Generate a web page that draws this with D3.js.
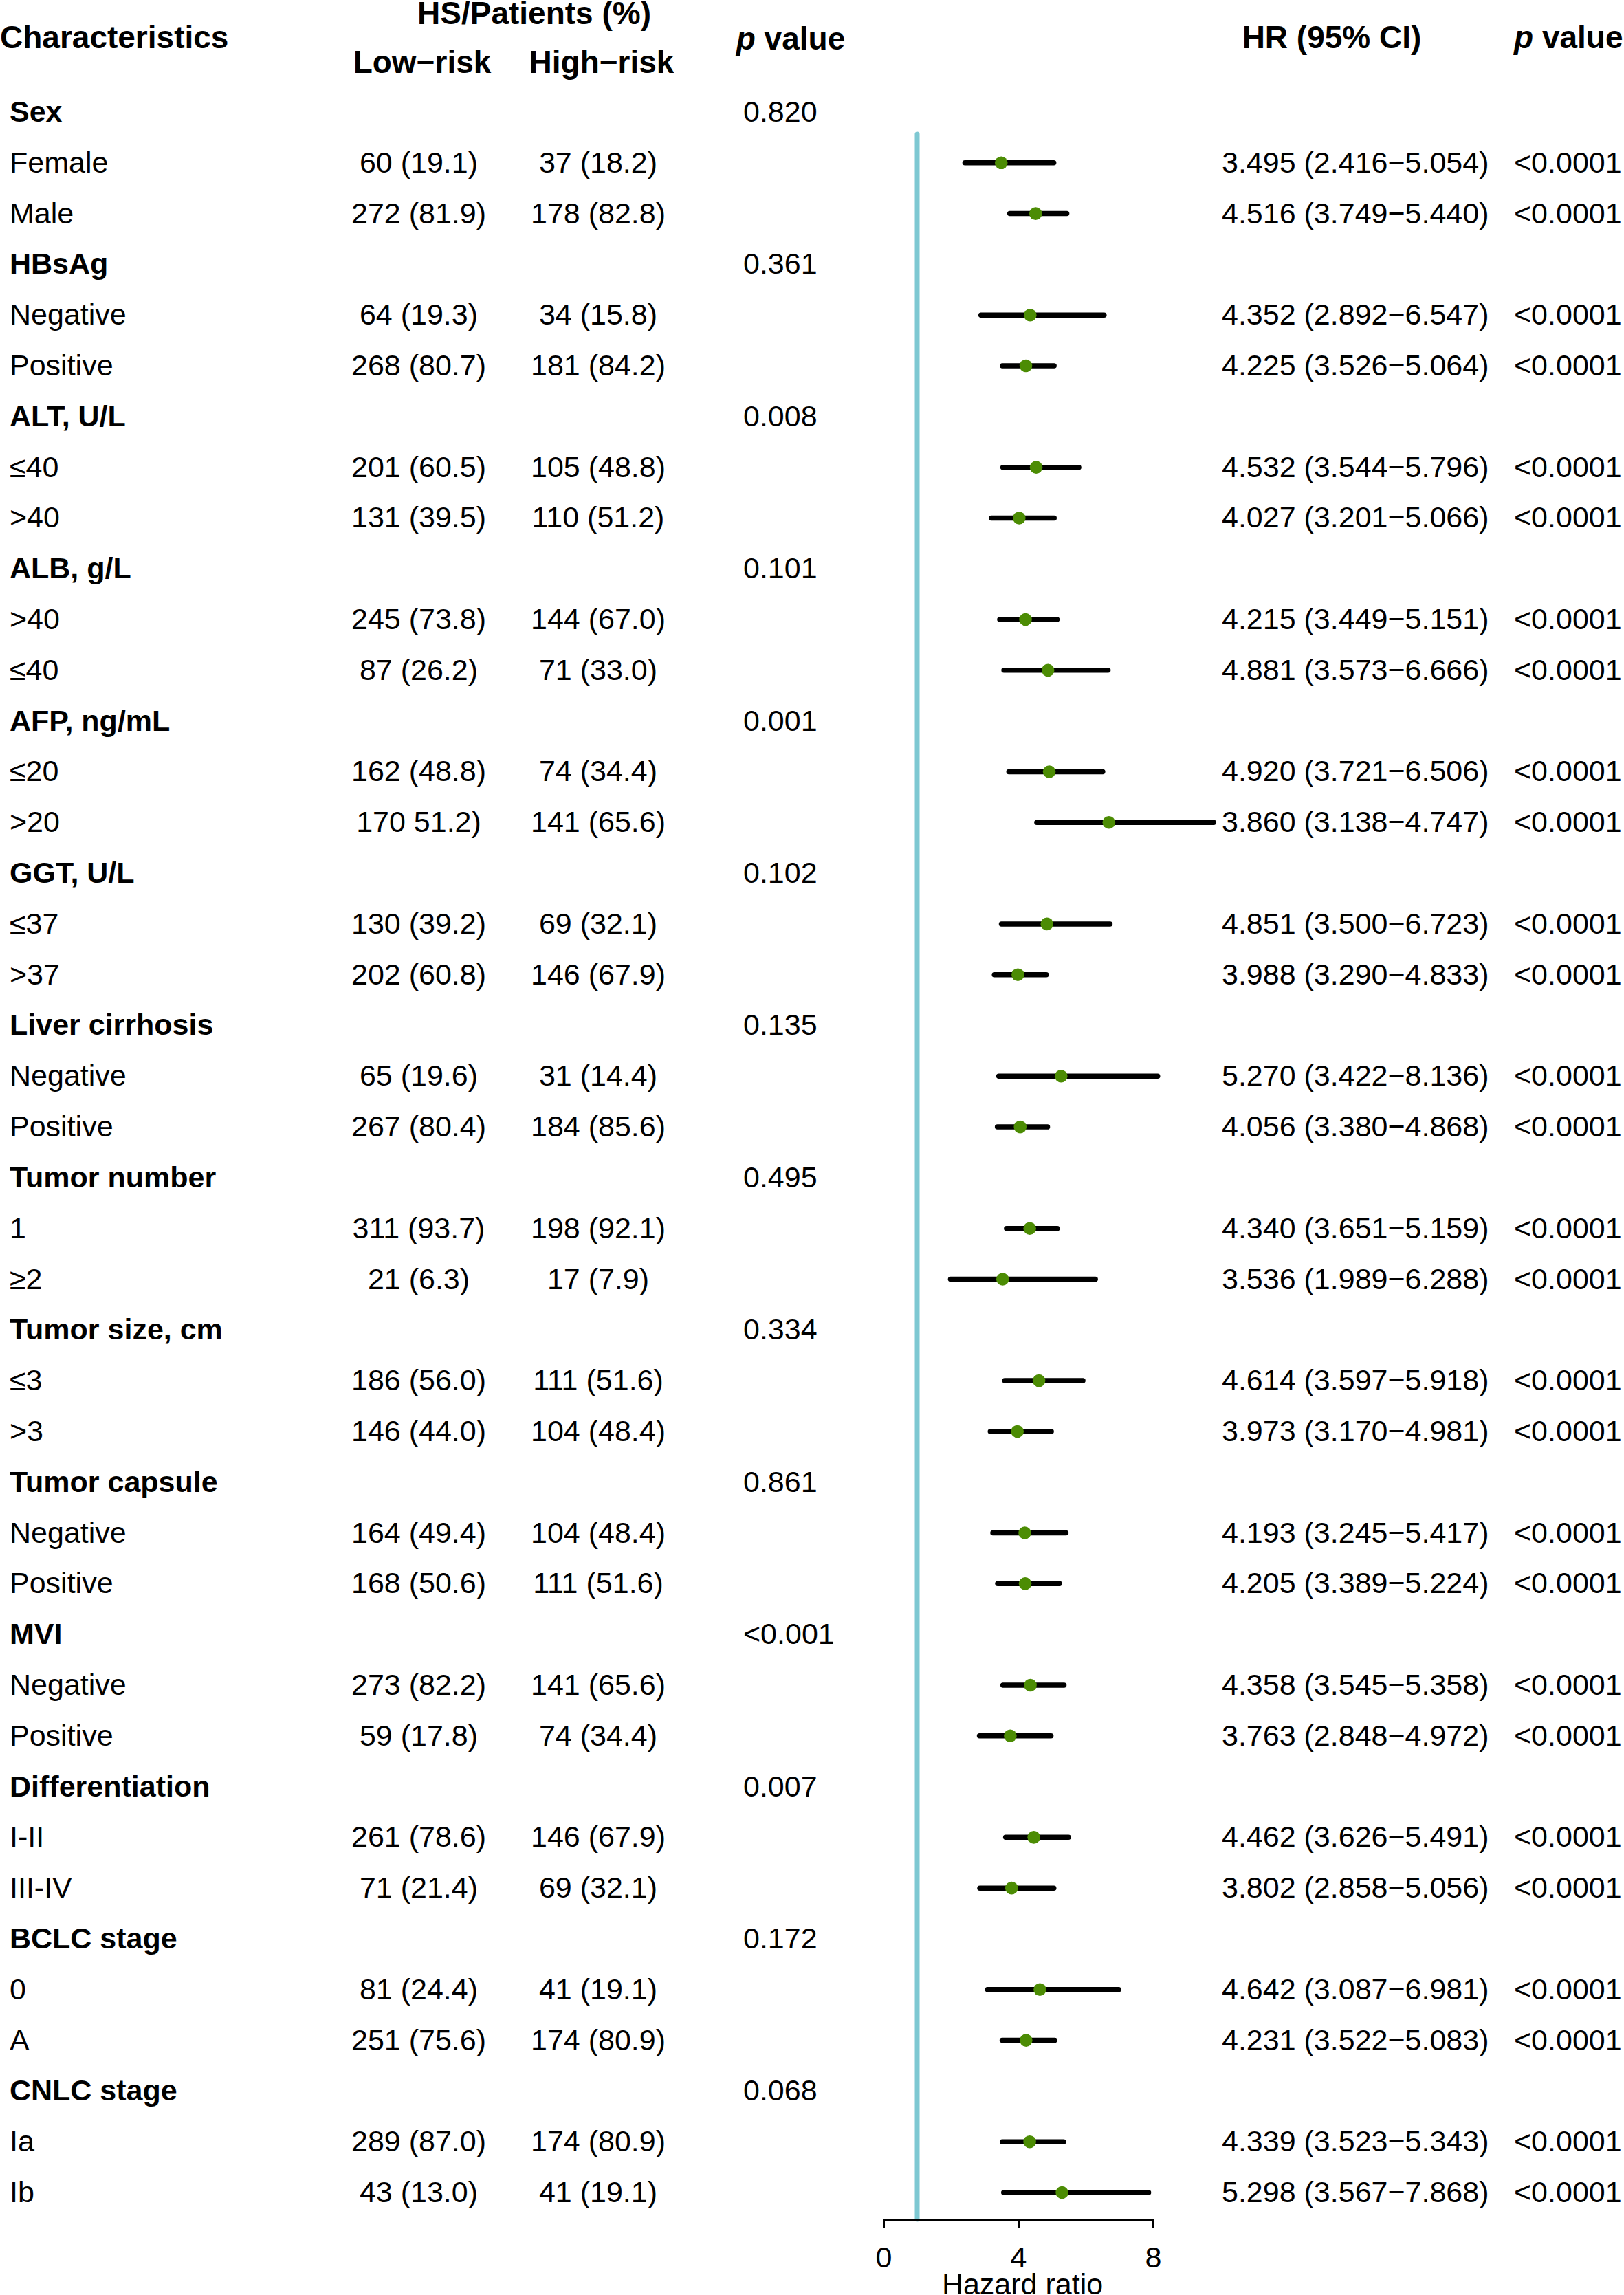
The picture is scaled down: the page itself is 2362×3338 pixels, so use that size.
<!DOCTYPE html>
<html>
<head>
<meta charset="utf-8">
<script src="https://cdn.jsdelivr.net/npm/d3@7"></script>
<style>
  html, body { margin: 0; padding: 0; background: #fff; }
  svg { display: block; }
  text { font-family: "Liberation Sans", Arial, Helvetica, sans-serif; fill: #000; }
</style>
</head>
<body>
<script>
// ---------------- DATA ----------------
const groups = ["Sex", "HBsAg", "ALT, U/L", "ALB, g/L", "AFP, ng/mL", "GGT, U/L", "Liver cirrhosis",
  "Tumor number", "Tumor size, cm", "Tumor capsule", "MVI", "Differentiation", "BCLC stage", "CNLC stage"];
const groupP = ["0.820", "0.361", "0.008", "0.101", "0.001", "0.102", "0.135",
  "0.495", "0.334", "0.861", "<0.001", "0.007", "0.172", "0.068"];

const subgroups = ["Female", "Male", "Negative", "Positive", "≤40", ">40", ">40", "≤40", "≤20", ">20",
  "≤37", ">37", "Negative", "Positive", "1", "≥2", "≤3", ">3", "Negative", "Positive",
  "Negative", "Positive", "I-II", "III-IV", "0", "A", "Ia", "Ib"];

const lowRisk = ["60 (19.1)", "272 (81.9)", "64 (19.3)", "268 (80.7)", "201 (60.5)", "131 (39.5)",
  "245 (73.8)", "87 (26.2)", "162 (48.8)", "170 51.2)", "130 (39.2)", "202 (60.8)", "65 (19.6)", "267 (80.4)",
  "311 (93.7)", "21 (6.3)", "186 (56.0)", "146 (44.0)", "164 (49.4)", "168 (50.6)", "273 (82.2)", "59 (17.8)",
  "261 (78.6)", "71 (21.4)", "81 (24.4)", "251 (75.6)", "289 (87.0)", "43 (13.0)"];

const highRisk = ["37 (18.2)", "178 (82.8)", "34 (15.8)", "181 (84.2)", "105 (48.8)", "110 (51.2)",
  "144 (67.0)", "71 (33.0)", "74 (34.4)", "141 (65.6)", "69 (32.1)", "146 (67.9)", "31 (14.4)", "184 (85.6)",
  "198 (92.1)", "17 (7.9)", "111 (51.6)", "104 (48.4)", "104 (48.4)", "111 (51.6)", "141 (65.6)", "74 (34.4)",
  "146 (67.9)", "69 (32.1)", "41 (19.1)", "174 (80.9)", "174 (80.9)", "41 (19.1)"];

const hrLabels = ["3.495 (2.416−5.054)", "4.516 (3.749−5.440)", "4.352 (2.892−6.547)", "4.225 (3.526−5.064)",
  "4.532 (3.544−5.796)", "4.027 (3.201−5.066)", "4.215 (3.449−5.151)", "4.881 (3.573−6.666)",
  "4.920 (3.721−6.506)", "3.860 (3.138−4.747)", "4.851 (3.500−6.723)", "3.988 (3.290−4.833)",
  "5.270 (3.422−8.136)", "4.056 (3.380−4.868)", "4.340 (3.651−5.159)", "3.536 (1.989−6.288)",
  "4.614 (3.597−5.918)", "3.973 (3.170−4.981)", "4.193 (3.245−5.417)", "4.205 (3.389−5.224)",
  "4.358 (3.545−5.358)", "3.763 (2.848−4.972)", "4.462 (3.626−5.491)", "3.802 (2.858−5.056)",
  "4.642 (3.087−6.981)", "4.231 (3.522−5.083)", "4.339 (3.523−5.343)", "5.298 (3.567−7.868)"];

const hrP = Array.from({length: 28}, () => "<0.0001");

// plotted estimates (as drawn in the figure)
const hr =    [3.495, 4.516, 4.352, 4.225, 4.532, 4.027, 4.215, 4.881, 4.920, 6.69, 4.851, 3.988, 5.270, 4.056,
  4.340, 3.536, 4.614, 3.973, 4.193, 4.205, 4.358, 3.763, 4.462, 3.802, 4.642, 4.231, 4.339, 5.298];
const lower = [2.416, 3.749, 2.892, 3.526, 3.544, 3.201, 3.449, 3.573, 3.721, 4.55, 3.500, 3.290, 3.422, 3.380,
  3.651, 1.989, 3.597, 3.170, 3.245, 3.389, 3.545, 2.848, 3.626, 2.858, 3.087, 3.522, 3.523, 3.567];
const upper = [5.054, 5.440, 6.547, 5.064, 5.796, 5.066, 5.151, 6.666, 6.506, 9.80, 6.723, 4.833, 8.136, 4.868,
  5.159, 6.288, 5.918, 4.981, 5.417, 5.224, 5.358, 4.972, 5.491, 5.056, 6.981, 5.083, 5.343, 7.868];

const axisTicks = [0, 4, 8];
const refValue = 1;

// ---------------- BUILD ROWS ----------------
const rows = [];
groups.forEach((g, gi) => {
  rows.push({type: "group", label: g, p: groupP[gi]});
  for (let k = 0; k < 2; k++) {
    const i = gi * 2 + k;
    rows.push({type: "sub", label: subgroups[i], low: lowRisk[i], high: highRisk[i],
      hrLabel: hrLabels[i], p: hrP[i], hr: hr[i], lo: lower[i], hi: upper[i]});
  }
});
rows.forEach((r, i) => r.id = i);

// ---------------- LAYOUT ----------------
const W = 2362, H = 3338;
const FONT = 43, HFONT = 46;
const green = "#4c8c04", teal = "#7ec8d2";

const svg = d3.select("body").append("svg")
  .attr("width", W).attr("height", H).attr("viewBox", `0 0 ${W} ${H}`);

const y = d3.scaleLinear().domain([0, rows.length - 1]).range([177, 3203]);
const x = d3.scaleLinear().domain([0, 8]).range([1285, 1677]);
const axisY = 3228;

// headers
const hdr = svg.append("g").attr("font-weight", "bold").attr("font-size", HFONT);
hdr.append("text").attr("x", 0).attr("y", 70).text("Characteristics");
hdr.append("text").attr("x", 777).attr("y", 35).attr("text-anchor", "middle").text("HS/Patients (%)");
hdr.append("text").attr("x", 614).attr("y", 106).attr("text-anchor", "middle").text("Low−risk");
hdr.append("text").attr("x", 875).attr("y", 106).attr("text-anchor", "middle").text("High−risk");
const pv1 = hdr.append("text").attr("x", 1150).attr("y", 72).attr("text-anchor", "middle");
pv1.append("tspan").attr("font-style", "italic").text("p");
pv1.append("tspan").text(" value");
hdr.append("text").attr("x", 1937).attr("y", 70).attr("text-anchor", "middle").text("HR (95% CI)");
const pv2 = hdr.append("text").attr("x", 2202).attr("y", 70);
pv2.append("tspan").attr("font-style", "italic").text("p");
pv2.append("tspan").text(" value");

// table text
const tbl = svg.append("g").attr("font-size", FONT);
const rg = tbl.selectAll("g.row").data(rows).join("g").attr("class", "row")
  .attr("transform", d => `translate(0,${y(d.id)})`);

rg.append("text").attr("x", 14).attr("font-weight", d => d.type === "group" ? "bold" : "normal")
  .text(d => d.label);
rg.filter(d => d.type === "group").append("text").attr("x", 1081).text(d => d.p);

const subs = rg.filter(d => d.type === "sub");
subs.append("text").attr("x", 609).attr("text-anchor", "middle").text(d => d.low);
subs.append("text").attr("x", 870).attr("text-anchor", "middle").text(d => d.high);
subs.append("text").attr("x", 1777).text(d => d.hrLabel);
subs.append("text").attr("x", 2202).text(d => d.p);

// reference line at HR = 1
svg.append("line")
  .attr("x1", x(refValue)).attr("x2", x(refValue))
  .attr("y1", 195).attr("y2", axisY)
  .attr("stroke", teal).attr("stroke-width", 7).attr("stroke-linecap", "round");

// CI lines and points
const subRows = rows.filter(d => d.type === "sub");
const forest = svg.append("g");
forest.selectAll("line.ci").data(subRows).join("line").attr("class", "ci")
  .attr("x1", d => x(d.lo)).attr("x2", d => x(d.hi))
  .attr("y1", d => y(d.id) - 14).attr("y2", d => y(d.id) - 14)
  .attr("stroke", "#000").attr("stroke-width", 7.5).attr("stroke-linecap", "round");
forest.selectAll("circle.pt").data(subRows).join("circle").attr("class", "pt")
  .attr("cx", d => x(d.hr)).attr("cy", d => y(d.id) - 14).attr("r", 9.3)
  .attr("fill", green);

// axis
const axis = d3.axisBottom(x).tickValues(axisTicks).tickSize(12).tickSizeOuter(0).tickPadding(27.5)
  .tickFormat(d3.format("d"));
const ag = svg.append("g").attr("transform", `translate(0,${axisY})`).call(axis);
ag.select(".domain").attr("stroke", "#000").attr("stroke-width", 3);
ag.selectAll(".tick line").attr("stroke", "#000").attr("stroke-width", 3);
ag.selectAll(".tick text").attr("font-size", FONT).attr("fill", "#000")
  .attr("font-family", "'Liberation Sans', Arial, sans-serif");

svg.append("text").attr("x", (x(0) + x(8)) / 2 + 6).attr("y", 3337)
  .attr("text-anchor", "middle").attr("font-size", FONT).text("Hazard ratio");
</script>
</body>
</html>
